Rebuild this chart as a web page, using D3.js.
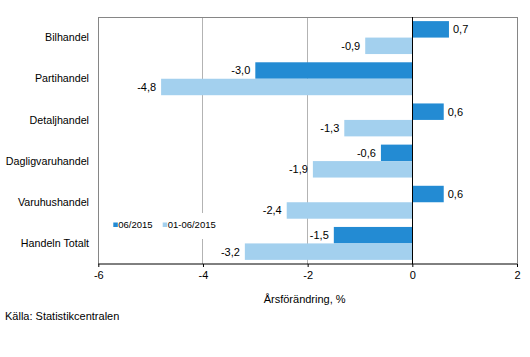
<!DOCTYPE html>
<html><head><meta charset="utf-8">
<script src="https://cdn.jsdelivr.net/npm/d3@7"></script>
<style>body{margin:0;background:#fff}svg{display:block;font-family:"Liberation Sans",Arial,sans-serif}</style>
</head><body><svg id="c" width="530" height="357"></svg>
<script>
const categories = ["Bilhandel","Partihandel","Detaljhandel","Dagligvaruhandel","Varuhushandel","Handeln Totalt"];
const seriesNames = ["06/2015","01-06/2015"];
const values0615 = [0.7,-3.0,0.6,-0.6,0.6,-1.5];
const values0106 = [-0.9,-4.8,-1.3,-1.9,-2.4,-3.2];
const xTicks = [-6,-4,-2,0,2];
const colors = ["#238bd3","#a3d0ee"];

const svg = d3.select("#c");
const L=98.3, R=517, T=17, B=264;
const x = d3.scaleLinear().domain([-6,2]).range([L,R]);
const y = d3.scaleBand().domain(categories).range([T,B]).padding(0);
const step = y.bandwidth();
const barH = step*0.4;
const fmt = v => (v<0?"-":"") + Math.abs(v).toFixed(1).replace(".",",");

// gridlines
svg.append("g").selectAll("line").data(xTicks.filter(t=>t!==-6&&t!==0&&t!==2)).join("line")
  .attr("x1",d=>x(d)).attr("x2",d=>x(d)).attr("y1",T).attr("y2",B)
  .attr("stroke","#b3b3b3").attr("stroke-width",1).attr("shape-rendering","crispEdges");
// frame
svg.append("path").attr("d",`M${L},${B}V${T}H${R}V${B}`).attr("fill","none")
  .attr("stroke","#868686").attr("shape-rendering","crispEdges");

const series = [values0615, values0106];
series.forEach((vals,si)=>{
  const g = svg.append("g");
  g.selectAll("rect").data(vals).join("rect")
    .attr("x",d=>x(Math.min(0,d)))
    .attr("width",d=>Math.abs(x(d)-x(0)))
    .attr("y",(d,i)=>y(categories[i])+step*0.1+si*barH)
    .attr("height",barH)
    .attr("fill",colors[si]);
  g.selectAll("text").data(vals).join("text")
    .attr("x",d=> d>=0 ? x(d)+4 : x(d)-5)
    .attr("y",(d,i)=>y(categories[i])+step*0.1+si*barH+barH/2)
    .attr("dy","0.35em")
    .attr("text-anchor",d=>d>=0?"start":"end")
    .attr("font-size",11).attr("fill","#000")
    .text(fmt);
});

// zero line
svg.append("line").attr("x1",x(0)).attr("x2",x(0)).attr("y1",T).attr("y2",B)
  .attr("stroke","#000").attr("shape-rendering","crispEdges");

// x axis
const xa = svg.append("g").attr("transform",`translate(0,${B})`)
  .call(d3.axisBottom(x).tickValues(xTicks).tickSize(3).tickFormat(d=>d<0?"-"+Math.abs(d):String(d)));
xa.select(".domain").attr("stroke","#000").attr("d",`M${L},0H${R}`);
xa.selectAll(".tick line").attr("stroke","#000");
xa.selectAll("text").attr("font-size",11).attr("font-family","Liberation Sans, Arial, sans-serif").attr("fill","#000").attr("dy","1em").attr("y",4);

// y labels
svg.append("g").selectAll("text").data(categories).join("text")
  .attr("x",89).attr("y",d=>y(d)+step/2).attr("dy","0.35em")
  .attr("text-anchor","end").attr("font-size",10.7).text(d=>d);

// legend
const lg = svg.append("g");
lg.append("rect").attr("x",106).attr("y",213).attr("width",118).attr("height",26).attr("fill","#fff");
const lx=[113.3,162.7];
seriesNames.forEach((n,i)=>{
  lg.append("rect").attr("x",lx[i]).attr("y",222.5).attr("width",4.5).attr("height",4.5).attr("fill",colors[i]);
  lg.append("text").attr("x",lx[i]+5).attr("y",228.2).attr("font-size",9.5).text(n);
});

// axis title
svg.append("text").attr("x",(L+R)/2-3).attr("y",303).attr("text-anchor","middle").attr("font-size",11).text("Årsförändring, %");
// source
svg.append("text").attr("x",5).attr("y",320).attr("font-size",11).text("Källa: Statistikcentralen");
</script></body></html>
